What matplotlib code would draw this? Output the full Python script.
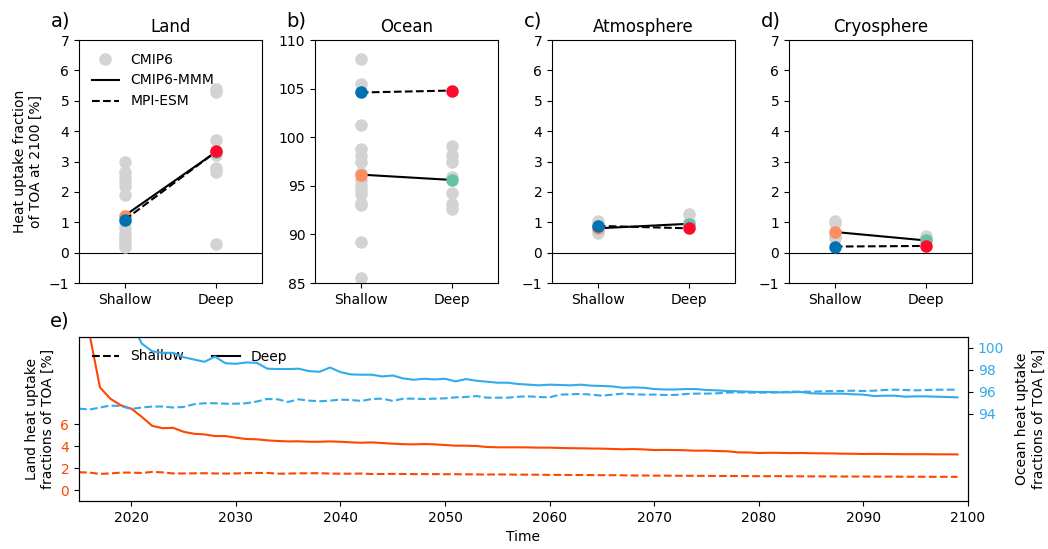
import numpy as np
import matplotlib
matplotlib.use("Agg")
import matplotlib.pyplot as plt
from matplotlib.lines import Line2D

# ---- colours ----
C_GREY = "#d3d3d3"
C_MMM_SH = "#fc8d62"
C_MMM_DP = "#66c2a5"
C_MPI_SH = "#0072b2"
C_MPI_DP = "#ff0a2a"
C_LAND = "#ff4500"
C_OCEAN = "#33aaea"

# ---- panels a-d: heat uptake fraction at 2100 ----
land_cmip_shallow = [3.0, 2.65, 2.5, 2.35, 2.2, 1.9, 1.0, 0.8, 0.6, 0.5, 0.4, 0.3, 0.2]
land_cmip_deep = [5.4, 5.3, 3.7, 3.2, 2.8, 2.65, 0.3]
land_mmm = [1.22, 3.32]
land_mpi = [1.08, 3.33]

ocean_cmip_shallow = [108.0, 105.5, 101.3, 98.8, 98.1, 97.5, 96.3, 95.6, 95.0, 94.6,
                      94.2, 93.2, 93.0, 89.2, 85.5]
ocean_cmip_deep = [99.1, 98.2, 97.5, 95.9, 94.3, 93.1, 92.6]
ocean_mmm = [96.15, 95.6]
ocean_mpi = [104.6, 104.8]

atmos_cmip_shallow = [1.05, 0.96, 0.85, 0.74, 0.65]
atmos_cmip_deep = [1.28, 1.02, 0.9]
atmos_mmm = [0.8, 0.95]
atmos_mpi = [0.88, 0.8]

cryo_cmip_shallow = [1.05, 0.96, 0.52, 0.47]
cryo_cmip_deep = [0.55, 0.47, 0.35]
cryo_mmm = [0.68, 0.4]
cryo_mpi = [0.2, 0.22]

# ---- panel e: time series (MPI-ESM) ----
years = list(range(2015, 2100))
land_deep = [20.0, 14.3, 9.4, 8.35, 7.75, 7.45, 6.7, 5.87, 5.66, 5.69,
             5.33, 5.15, 5.09, 4.94, 4.94, 4.79, 4.67, 4.64, 4.55, 4.49,
             4.45, 4.46, 4.42, 4.42, 4.45, 4.42, 4.36, 4.33, 4.36, 4.30,
             4.24, 4.20, 4.18, 4.21, 4.18, 4.12, 4.06, 4.06, 4.03, 3.94,
             3.91, 3.91, 3.91, 3.90, 3.88, 3.88, 3.85, 3.83, 3.82, 3.80,
             3.79, 3.76, 3.73, 3.75, 3.72, 3.66, 3.67, 3.66, 3.64, 3.60,
             3.61, 3.57, 3.55, 3.45, 3.44, 3.39, 3.41, 3.40, 3.38, 3.39,
             3.37, 3.36, 3.35, 3.33, 3.32, 3.30, 3.31, 3.30, 3.29, 3.28,
             3.28, 3.28, 3.27, 3.27, 3.26]
land_shallow = [1.63, 1.60, 1.48, 1.52, 1.60, 1.60, 1.56, 1.66, 1.62, 1.52,
                1.52, 1.53, 1.54, 1.52, 1.51, 1.52, 1.55, 1.56, 1.57, 1.50,
                1.51, 1.53, 1.54, 1.54, 1.51, 1.50, 1.50, 1.51, 1.47, 1.47,
                1.48, 1.47, 1.46, 1.46, 1.46, 1.45, 1.45, 1.44, 1.43, 1.42,
                1.43, 1.42, 1.41, 1.41, 1.40, 1.39, 1.39, 1.38, 1.38, 1.37,
                1.36, 1.36, 1.35, 1.33, 1.33, 1.32, 1.32, 1.31, 1.31, 1.30,
                1.30, 1.29, 1.29, 1.28, 1.28, 1.27, 1.27, 1.27, 1.26, 1.26,
                1.25, 1.25, 1.25, 1.24, 1.24, 1.24, 1.23, 1.23, 1.23, 1.22,
                1.22, 1.22, 1.21, 1.21, 1.21]
ocean_deep = [106.0, 105.0, 104.0, 103.5, 103.0, 102.4, 100.4, 99.69, 99.55, 99.55,
              99.15, 98.94, 98.73, 99.21, 98.60, 98.55, 98.67, 98.64, 98.10, 98.07,
              98.07, 98.10, 97.88, 97.82, 98.21, 97.79, 97.58, 97.55, 97.55, 97.39,
              97.48, 97.21, 97.09, 97.18, 97.12, 97.18, 96.94, 97.15, 97.00, 96.91,
              96.82, 96.82, 96.70, 96.64, 96.58, 96.64, 96.61, 96.58, 96.64, 96.55,
              96.52, 96.48, 96.36, 96.39, 96.36, 96.24, 96.20, 96.20, 96.24, 96.24,
              96.15, 96.12, 96.06, 96.03, 96.00, 95.97, 95.97, 95.94, 95.94, 95.97,
              95.85, 95.82, 95.82, 95.82, 95.76, 95.73, 95.60, 95.63, 95.63, 95.54,
              95.57, 95.57, 95.54, 95.51, 95.48]
ocean_shallow = [94.45, 94.36, 94.55, 94.73, 94.67, 94.42, 94.55, 94.64, 94.64, 94.55,
                 94.60, 94.85, 94.94, 94.94, 94.90, 94.90, 94.94, 95.10, 95.33, 95.30,
                 95.06, 95.30, 95.18, 95.12, 95.18, 95.27, 95.24, 95.15, 95.33, 95.36,
                 95.15, 95.36, 95.36, 95.33, 95.36, 95.39, 95.48, 95.51, 95.60, 95.45,
                 95.45, 95.45, 95.54, 95.57, 95.51, 95.48, 95.73, 95.76, 95.79, 95.73,
                 95.63, 95.73, 95.82, 95.76, 95.73, 95.73, 95.70, 95.70, 95.79, 95.82,
                 95.82, 95.85, 95.91, 95.94, 95.91, 95.91, 95.91, 95.94, 96.00, 96.00,
                 96.00, 96.03, 96.06, 96.06, 96.09, 96.06, 96.09, 96.15, 96.18, 96.15,
                 96.12, 96.15, 96.18, 96.18, 96.18]

W, H = 1048, 549
fig = plt.figure(figsize=(W / 100, H / 100), dpi=100)


def px_axes(left, top, right, bottom):
    return fig.add_axes([left / W, 1 - bottom / H, (right - left) / W, (bottom - top) / H])


def dot_panel(ax, cm_sh, cm_dp, mmm, mpi, ylim, letter, title, zero_line=True):
    ms = 8
    ax.plot([0] * len(cm_sh), cm_sh, "o", color=C_GREY, ms=ms, zorder=2)
    ax.plot([1] * len(cm_dp), cm_dp, "o", color=C_GREY, ms=ms, zorder=2)
    ax.plot([0, 1], mmm, "-", color="k", lw=1.5, zorder=3)
    ax.plot([0], mmm[0], "o", color=C_MMM_SH, ms=ms, zorder=4)
    ax.plot([1], mmm[1], "o", color=C_MMM_DP, ms=ms, zorder=4)
    ax.plot([0, 1], mpi, "--", color="k", lw=1.5, zorder=5)
    ax.plot([0], mpi[0], "o", color=C_MPI_SH, ms=ms, zorder=6)
    ax.plot([1], mpi[1], "o", color=C_MPI_DP, ms=ms, zorder=6)
    if zero_line:
        ax.axhline(0, color="k", lw=0.8, zorder=1)
    ax.set_xlim(-0.5, 1.5)
    ax.set_ylim(*ylim)
    ax.set_xticks([0, 1])
    ax.set_xticklabels(["Shallow", "Deep"], fontsize=10)
    ax.tick_params(axis="y", labelsize=10)
    ax.set_title(title, fontsize=12)
    ax.text(-0.155, 1.04, letter, transform=ax.transAxes, fontsize=14,
            ha="left", va="bottom")


ax_a = px_axes(79, 40, 262, 283)
ax_b = px_axes(315, 40, 498, 283)
ax_c = px_axes(552, 40, 735, 283)
ax_d = px_axes(789, 40, 972, 283)

dot_panel(ax_a, land_cmip_shallow, land_cmip_deep, land_mmm, land_mpi, (-1, 7), "a)", "Land")
dot_panel(ax_b, ocean_cmip_shallow, ocean_cmip_deep, ocean_mmm, ocean_mpi, (85, 110), "b)", "Ocean",
          zero_line=False)
dot_panel(ax_c, atmos_cmip_shallow, atmos_cmip_deep, atmos_mmm, atmos_mpi, (-1, 7), "c)", "Atmosphere")
dot_panel(ax_d, cryo_cmip_shallow, cryo_cmip_deep, cryo_mmm, cryo_mpi, (-1, 7), "d)", "Cryosphere")
ax_b.set_yticks([85, 90, 95, 100, 105, 110])

ax_a.set_ylabel("Heat uptake fraction\nof TOA at 2100 [%]", fontsize=10)
handles = [
    Line2D([], [], marker="o", ls="none", color=C_GREY, ms=8),
    Line2D([], [], color="k", lw=1.5),
    Line2D([], [], color="k", lw=1.5, ls="--"),
]
ax_a.legend(handles, ["CMIP6", "CMIP6-MMM", "MPI-ESM"], loc="upper left",
            frameon=False, fontsize=10)

# ---- panel e ----
ax_e = px_axes(79, 337, 968, 501)
ax_e.plot(years, land_deep, "-", color=C_LAND, lw=1.5)
ax_e.plot(years, land_shallow, "--", color=C_LAND, lw=1.5)
ax_e.set_xlim(2015, 2100)
ax_e.set_ylim(-1, 14)
ax_e.set_yticks([0, 2, 4, 6])
ax_e.tick_params(axis="y", labelcolor=C_LAND, labelsize=10)
ax_e.tick_params(axis="x", labelsize=10)
ax_e.set_ylabel("Land heat uptake\nfractions of TOA [%]", fontsize=10)
ax_e.set_xlabel("Time", fontsize=10)
ax_e.text(-0.033, 1.04, "e)", transform=ax_e.transAxes, fontsize=14,
          ha="left", va="bottom")

# legend sits on the land axes, so the ocean lines are drawn over it
e_handles = [Line2D([], [], color="k", lw=1.5, ls="--"), Line2D([], [], color="k", lw=1.5)]
ax_e.legend(e_handles, ["Shallow", "Deep"], loc="upper left", ncol=2,
            frameon=False, fontsize=10)

ax_r = ax_e.twinx()
ax_r.plot(years, ocean_deep, "-", color=C_OCEAN, lw=1.5)
ax_r.plot(years, ocean_shallow, "--", color=C_OCEAN, lw=1.5)
ax_r.set_ylim(86, 101)
ax_r.set_yticks([94, 96, 98, 100])
ax_r.tick_params(axis="y", labelcolor=C_OCEAN, labelsize=10)
ax_r.set_ylabel("Ocean heat uptake\nfractions of TOA [%]", fontsize=10, labelpad=8)

fig.savefig("out.png", dpi=100)
